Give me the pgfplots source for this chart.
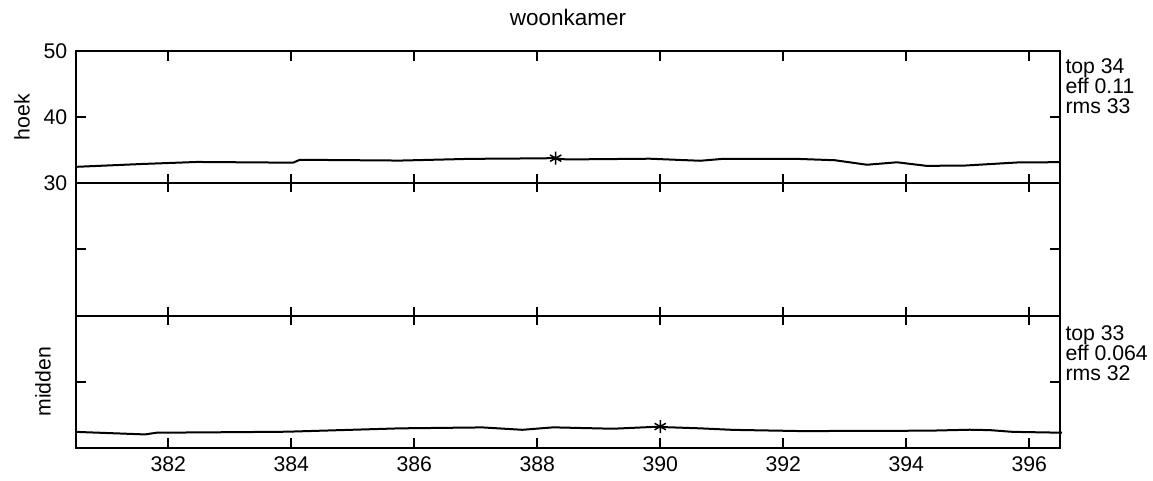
\documentclass[border=0pt]{standalone}
\usepackage{pgfplots}
\pgfplotsset{compat=1.18}
\usepackage{fontspec}
\setmainfont{Liberation Sans}

\begin{document}
\begin{tikzpicture}[font=\fontsize{8.5}{9}\selectfont]
\begin{axis}[
    scale only axis, width=393.6pt, height=158.8pt,
    xmin=380.5, xmax=396.5, ymin=-10, ymax=50,
    clip=false,
    xtick={382,384,...,396},
    ytick={0,10,20,30,40,50}, yticklabels={,,,30,40,50},
    tick align=inside, xtick pos=both, ytick pos=both,
    major tick length=4pt,
    axis line style={line width=0.8pt},
    every tick/.style={black, line width=0.8pt},
    /pgf/number format/assume math mode=true,
    /pgf/number format/1000 sep={},
    ticklabel style={font=\fontsize{8.5}{9}\selectfont},
    title=woonkamer,
    title style={font=\fontsize{9}{10}\selectfont, inner sep=1pt, yshift=3pt},
]
% hoek
\addplot[black, line width=0.8pt] coordinates {
(380.52,32.50) (381.59,32.93) (382.47,33.23) (384.03,33.12) (384.14,33.56)
(385.77,33.44) (386.96,33.71) (387.35,33.72) (388.26,33.80) (388.48,33.61)
(389.83,33.72) (390.65,33.41) (391.02,33.70) (392.27,33.68) (392.84,33.49)
(393.36,32.81) (393.85,33.18) (394.33,32.64) (394.96,32.69) (395.80,33.15)
(396.50,33.20)
};
\addplot[black, line width=0.8pt, mark=|, mark size=3.6pt, mark indices={2,...,9}] coordinates {
(380.5,30) (382,30) (384,30) (386,30) (388,30) (390,30) (392,30) (394,30) (396,30) (396.5,30)
};
\addplot[only marks, black, mark=asterisk, mark size=2.6pt, mark options={line width=0.6pt}] coordinates {(388.3,33.8)};
% midden
\addplot[black, line width=0.8pt, mark=|, mark size=3.6pt, mark indices={2,...,9}] coordinates {
(380.5,10) (382,10) (384,10) (386,10) (388,10) (390,10) (392,10) (394,10) (396,10) (396.5,10)
};
\addplot[black, line width=0.8pt] coordinates {
(380.52,-7.57) (381.62,-7.95) (381.81,-7.69) (383.16,-7.60) (383.93,-7.54)
(385.77,-7.03) (387.11,-6.89) (387.76,-7.25) (388.26,-6.88) (389.23,-7.09)
(389.92,-6.80) (390.65,-7.03) (391.18,-7.26) (392.27,-7.44) (393.36,-7.42)
(394.38,-7.38) (395.03,-7.24) (395.36,-7.30) (395.73,-7.56) (396.53,-7.69)
};
\addplot[only marks, black, mark=asterisk, mark size=2.6pt, mark options={line width=0.6pt}] coordinates {(390,-6.76)};

\node[rotate=90] at ([xshift=-21.6pt]axis cs:380.5,40) {hoek};
\node[rotate=90] at ([xshift=-13.2pt]axis cs:380.5,0) {midden};
\node[anchor=north west, inner sep=0pt, align=left, font=\fontsize{8.5}{8}\selectfont]
  at ([xshift=2pt, yshift=-3pt]axis cs:396.5,50) {top 34\\eff 0.11\\rms 33};
\node[anchor=north west, inner sep=0pt, align=left, font=\fontsize{8.5}{8}\selectfont]
  at ([xshift=2pt, yshift=-3.7pt]axis cs:396.5,10) {top 33\\eff 0.064\\rms 32};
\end{axis}
\path (current axis.south west) ++(-30.4pt,-13.2pt) rectangle ++(461.2pt,192.4pt);
\end{tikzpicture}
\end{document}
